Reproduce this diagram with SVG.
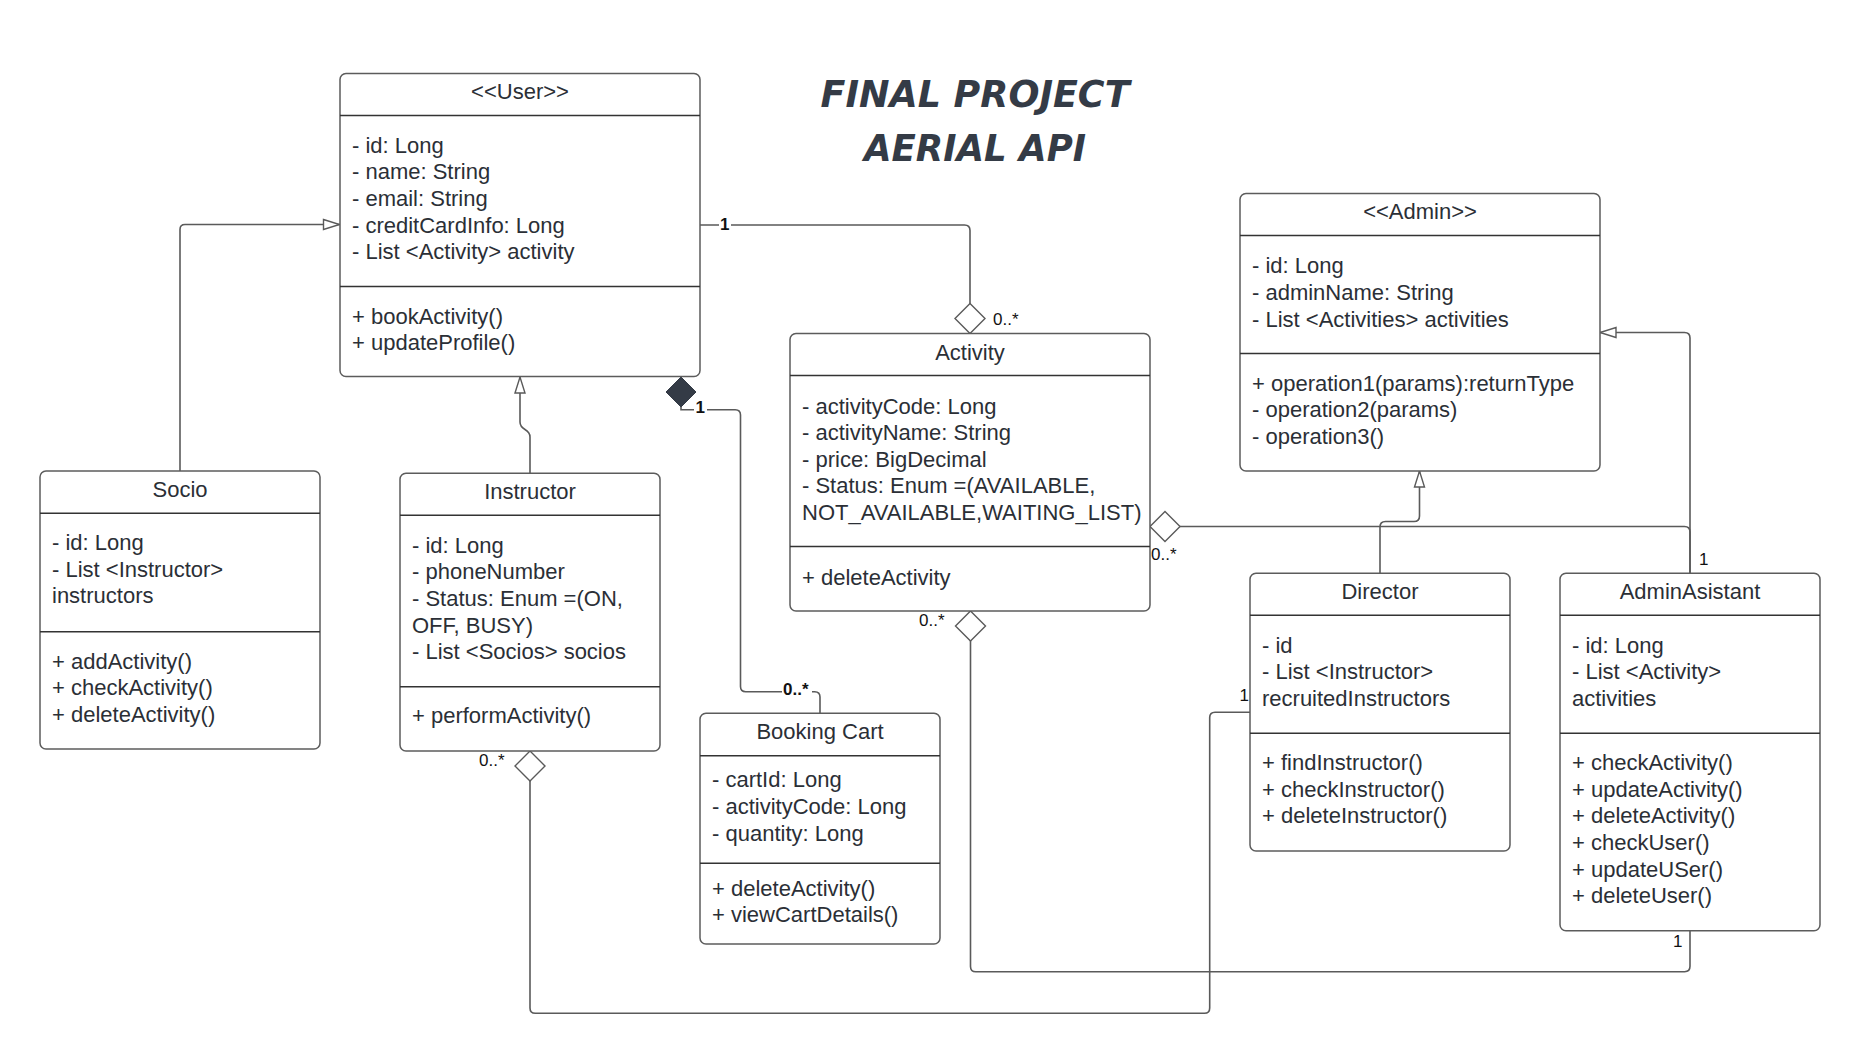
<svg xmlns="http://www.w3.org/2000/svg" width="1860" height="1054" viewBox="0 0 1860 1054">
<defs>
<style>
.box{fill:#fff;stroke:#5c5c5c;stroke-width:1.5}
.div{stroke:#333;stroke-width:1.5}
.t{font-family:"Liberation Sans",Arial,sans-serif;font-size:22px;fill:#2b2f36}
.c{text-anchor:middle}
.conn{fill:none;stroke:#5a5a5a;stroke-width:1.6}
.lbl{font-family:"Liberation Sans",Arial,sans-serif;font-size:17px;fill:#111}
.b{font-weight:bold}
.title{font-family:"DejaVu Sans","Liberation Sans",sans-serif;font-weight:bold;font-style:italic;font-size:38px;fill:#343b46;text-anchor:middle}
</style>
<marker id="gen" viewBox="-1 -6 18 12" refX="16" refY="0" markerWidth="18" markerHeight="12" markerUnits="userSpaceOnUse" orient="auto" overflow="visible">
<path d="M0,-5 L16,0 L0,5 Z" fill="#fff" stroke="#5a5a5a" stroke-width="1.4"/>
</marker>
<marker id="agg" viewBox="-1 -16 32 32" refX="30" refY="0" markerWidth="32" markerHeight="32" markerUnits="userSpaceOnUse" orient="auto" overflow="visible">
<path d="M0,0 L15,-15 L30,0 L15,15 Z" fill="#fff" stroke="#5a5a5a" stroke-width="1.4"/>
</marker>
<marker id="comp" viewBox="-1 -16 32 32" refX="30" refY="0" markerWidth="32" markerHeight="32" markerUnits="userSpaceOnUse" orient="auto" overflow="visible">
<path d="M0,0 L15,-15 L30,0 L15,15 Z" fill="#343b46" stroke="#343b46" stroke-width="1"/>
</marker>
</defs>
<rect width="1860" height="1054" fill="#fff"/>

<g id="title">
<text class="title" x="975" y="107" textLength="309" lengthAdjust="spacingAndGlyphs">FINAL PROJECT</text>
<text class="title" x="975" y="160.5" textLength="222" lengthAdjust="spacingAndGlyphs">AERIAL API</text>
</g>

<g id="connectors">
<path class="conn" d="M180,471 V229.5 Q180,224.5 185,224.5 H339.5" marker-end="url(#gen)"/>
<path class="conn" d="M530,473.3 V437 C530,428 520,431 520,422 V377" marker-end="url(#gen)"/>
<path class="conn" d="M1380,573.3 V527 Q1380,521.5 1385.5,521.5 H1414 Q1419.5,521.5 1419.5,516 V471" marker-end="url(#gen)"/>
<path class="conn" d="M1690,573.3 V338 Q1690,332.5 1684.5,332.5 H1600" marker-end="url(#gen)"/>
<path class="conn" d="M700,225 H964.5 Q970,225 970,230.5 V333.5" marker-end="url(#agg)"/>
<path class="conn" d="M820,713.3 V697 Q820,691.7 814.7,691.7 H745.7 Q740.5,691.7 740.5,686.5 V415 Q740.5,409.7 735.3,409.7 H681 V377" marker-end="url(#comp)"/>
<path class="conn" d="M1690,573.3 V532 Q1690,526.5 1684.5,526.5 H1150" marker-end="url(#agg)"/>
<path class="conn" d="M1690,930.7 V966.3 Q1690,971.7 1684.6,971.7 H975.8 Q970.5,971.7 970.5,966.4 V611" marker-end="url(#agg)"/>
<path class="conn" d="M1250,712.3 H1215 Q1209.7,712.3 1209.7,717.6 V1008 Q1209.7,1013.3 1204.4,1013.3 H535.3 Q530,1013.3 530,1008 V751" marker-end="url(#agg)"/>
<rect x="719" y="216" width="12" height="16" fill="#fff"/>
<text class="lbl b" x="720" y="229.5">1</text>
<text class="lbl" x="993" y="325">0..*</text>
<rect x="694" y="400" width="13" height="15" fill="#fff"/>
<text class="lbl b" x="695.5" y="412.7">1</text>
<rect x="782" y="682" width="30" height="15" fill="#fff"/>
<text class="lbl b" x="783" y="695">0..*</text>
<text class="lbl" x="1151" y="560">0..*</text>
<text class="lbl" x="1699" y="565">1</text>
<text class="lbl" x="919" y="626">0..*</text>
<text class="lbl" x="1673" y="946.5">1</text>
<text class="lbl" x="479" y="766">0..*</text>
<text class="lbl" x="1239.5" y="701">1</text>
</g>

<g id="User">
<rect class="box" x="340" y="73.5" width="360" height="303" rx="6"/>
<line class="div" x1="340" y1="115.5" x2="700" y2="115.5"/>
<line class="div" x1="340" y1="286.5" x2="700" y2="286.5"/>
<text class="t c" x="520" y="99">&lt;&lt;User&gt;&gt;</text>
<text class="t" x="352" y="152.7">- id: Long</text>
<text class="t" x="352" y="179.3">- name: String</text>
<text class="t" x="352" y="206">- email: String</text>
<text class="t" x="352" y="232.7">- creditCardInfo: Long</text>
<text class="t" x="352" y="259.3">- List &lt;Activity&gt; activity</text>
<text class="t" x="352" y="323.5">+ bookActivity()</text>
<text class="t" x="352" y="350.2">+ updateProfile()</text>
</g>

<g id="Admin">
<rect class="box" x="1240" y="193.5" width="360" height="277.5" rx="6"/>
<line class="div" x1="1240" y1="235.5" x2="1600" y2="235.5"/>
<line class="div" x1="1240" y1="353.5" x2="1600" y2="353.5"/>
<text class="t c" x="1420" y="219">&lt;&lt;Admin&gt;&gt;</text>
<text class="t" x="1252" y="273.3">- id: Long</text>
<text class="t" x="1252" y="300">- adminName: String</text>
<text class="t" x="1252" y="326.7">- List &lt;Activities&gt; activities</text>
<text class="t" x="1252" y="390.7">+ operation1(params):returnType</text>
<text class="t" x="1252" y="417.3">- operation2(params)</text>
<text class="t" x="1252" y="444">- operation3()</text>
</g>

<g id="Activity">
<rect class="box" x="790" y="333.5" width="360" height="277.5" rx="6"/>
<line class="div" x1="790" y1="375.5" x2="1150" y2="375.5"/>
<line class="div" x1="790" y1="546.5" x2="1150" y2="546.5"/>
<text class="t c" x="970" y="359.5">Activity</text>
<text class="t" x="802" y="413.5">- activityCode: Long</text>
<text class="t" x="802" y="440">- activityName: String</text>
<text class="t" x="802" y="466.7">- price: BigDecimal</text>
<text class="t" x="802" y="493.3">- Status: Enum =(AVAILABLE,</text>
<text class="t" x="802" y="520">NOT_AVAILABLE,WAITING_LIST)</text>
<text class="t" x="802" y="585">+ deleteActivity</text>
</g>

<g id="Socio">
<rect class="box" x="40" y="471" width="280" height="278" rx="6"/>
<line class="div" x1="40" y1="513.3" x2="320" y2="513.3"/>
<line class="div" x1="40" y1="631.7" x2="320" y2="631.7"/>
<text class="t c" x="180" y="496.7">Socio</text>
<text class="t" x="52" y="550">- id: Long</text>
<text class="t" x="52" y="576.7">- List &lt;Instructor&gt;</text>
<text class="t" x="52" y="603.3">instructors</text>
<text class="t" x="52" y="668.5">+ addActivity()</text>
<text class="t" x="52" y="695.2">+ checkActivity()</text>
<text class="t" x="52" y="721.8">+ deleteActivity()</text>
</g>

<g id="Instructor">
<rect class="box" x="400" y="473.3" width="260" height="277.7" rx="6"/>
<line class="div" x1="400" y1="515.3" x2="660" y2="515.3"/>
<line class="div" x1="400" y1="686.7" x2="660" y2="686.7"/>
<text class="t c" x="530" y="498.7">Instructor</text>
<text class="t" x="412" y="552.7">- id: Long</text>
<text class="t" x="412" y="579.3">- phoneNumber</text>
<text class="t" x="412" y="606">- Status: Enum =(ON,</text>
<text class="t" x="412" y="632.7">OFF, BUSY)</text>
<text class="t" x="412" y="659.3">- List &lt;Socios&gt; socios</text>
<text class="t" x="412" y="723.3">+ performActivity()</text>
</g>

<g id="BookingCart">
<rect class="box" x="700" y="713.3" width="240" height="230.7" rx="6"/>
<line class="div" x1="700" y1="755.7" x2="940" y2="755.7"/>
<line class="div" x1="700" y1="863.3" x2="940" y2="863.3"/>
<text class="t c" x="820" y="739.3">Booking Cart</text>
<text class="t" x="712" y="787.3">- cartId: Long</text>
<text class="t" x="712" y="814">- activityCode: Long</text>
<text class="t" x="712" y="840.7">- quantity: Long</text>
<text class="t" x="712" y="895.7">+ deleteActivity()</text>
<text class="t" x="712" y="922.3">+ viewCartDetails()</text>
</g>

<g id="Director">
<rect class="box" x="1250" y="573.3" width="260" height="277.7" rx="6"/>
<line class="div" x1="1250" y1="615.3" x2="1510" y2="615.3"/>
<line class="div" x1="1250" y1="733.3" x2="1510" y2="733.3"/>
<text class="t c" x="1380" y="598.5">Director</text>
<text class="t" x="1262" y="652.7">- id</text>
<text class="t" x="1262" y="679.3">- List &lt;Instructor&gt;</text>
<text class="t" x="1262" y="706">recruitedInstructors</text>
<text class="t" x="1262" y="770">+ findInstructor()</text>
<text class="t" x="1262" y="796.7">+ checkInstructor()</text>
<text class="t" x="1262" y="823.3">+ deleteInstructor()</text>
</g>

<g id="AdminAsistant">
<rect class="box" x="1560" y="573.3" width="260" height="357.4" rx="6"/>
<line class="div" x1="1560" y1="615.3" x2="1820" y2="615.3"/>
<line class="div" x1="1560" y1="733.3" x2="1820" y2="733.3"/>
<text class="t c" x="1690" y="598.5">AdminAsistant</text>
<text class="t" x="1572" y="652.7">- id: Long</text>
<text class="t" x="1572" y="679.3">- List &lt;Activity&gt;</text>
<text class="t" x="1572" y="706">activities</text>
<text class="t" x="1572" y="770">+ checkActivity()</text>
<text class="t" x="1572" y="796.7">+ updateActivity()</text>
<text class="t" x="1572" y="823.3">+ deleteActivity()</text>
<text class="t" x="1572" y="850">+ checkUser()</text>
<text class="t" x="1572" y="876.7">+ updateUSer()</text>
<text class="t" x="1572" y="903.3">+ deleteUser()</text>
</g>
</svg>
